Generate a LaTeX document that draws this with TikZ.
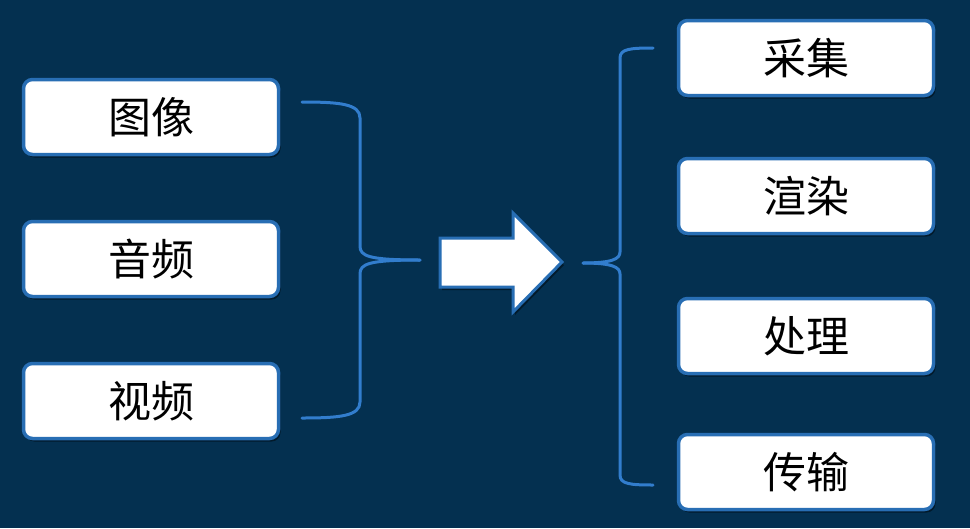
\documentclass[tikz,border=0pt]{standalone}
\usepackage{fontspec}
\newfontfamily\cjk{Noto Sans CJK SC}
\usetikzlibrary{shadows}
\definecolor{bgnavy}{RGB}{4,48,80}
\definecolor{boxblue}{RGB}{40,110,180}
\definecolor{brblue}{RGB}{50,125,205}
\begin{document}
\begin{tikzpicture}[x=1pt,y=-1pt,
  itembox/.style={draw=boxblue,line width=3.5pt,fill=white,rounded corners=9pt,
    minimum width=255pt,minimum height=75pt,inner sep=0pt,
    font=\cjk\fontsize{43}{46}\selectfont,text=black,
    drop shadow={shadow xshift=2pt,shadow yshift=-3pt,opacity=0.45,fill=black}},
  bracket/.style={draw=brblue,line width=3pt,line cap=round,line join=round}]
\fill[bgnavy] (0,0) rectangle (970,528);
\useasboundingbox (0,0) rectangle (970,528);
% left boxes
\node[itembox] (tuxiang) at (151,117) {图像};
\node[itembox] (yinpin) at (151,259) {音频};
\node[itembox] (shipin) at (151,401) {视频};
% right boxes
\node[itembox] (caiji) at (806,58) {采集};
\node[itembox] (xuanran) at (806,196) {渲染};
\node[itembox] (chuli) at (806,336) {处理};
\node[itembox] (chuanshu) at (806,472) {传输};
% left bracket
\coordinate (lbtop) at (302,102);
\coordinate (lbbot) at (302,418);
\coordinate (lbtip) at (420,260);
\draw[bracket] (lbtop) .. controls (340,102) and (360,104) .. (360,118)
  -- (360,246) .. controls (360,256) and (368,260) .. (lbtip);
\draw[bracket] (lbbot) .. controls (340,418) and (360,416) .. (360,402)
  -- (360,274) .. controls (360,264) and (368,260) .. (lbtip);
% right bracket
\coordinate (rbtop) at (653,48);
\coordinate (rbbot) at (653,485);
\coordinate (rbtip) at (583,263);
\draw[bracket] (rbtop) .. controls (630,48) and (620,49) .. (620,58)
  -- (620,252) .. controls (620,259) and (612,263) .. (rbtip);
\draw[bracket] (rbbot) .. controls (630,485) and (620,484) .. (620,475)
  -- (620,274) .. controls (620,267) and (612,263) .. (rbtip);
% big arrow
\node[coordinate] (arrowtail) at (440,262) {};
\filldraw[fill=white,draw=boxblue,line width=3pt,line join=miter,
  drop shadow={shadow xshift=2pt,shadow yshift=-3pt,opacity=0.45,fill=black}]
  (arrowtail) ++(0,-24) -- (513,238) -- (513,213) -- (562,262) -- (513,312)
  -- (513,287) -- (440,287) -- cycle;
\end{tikzpicture}
\end{document}
